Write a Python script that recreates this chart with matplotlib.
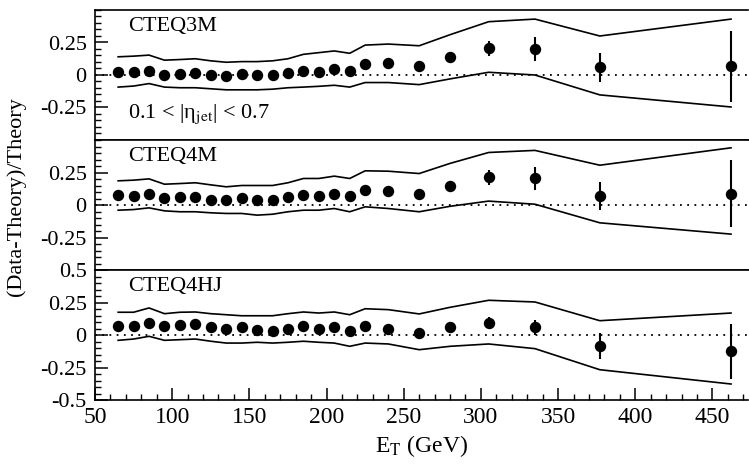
import numpy as np
import matplotlib.pyplot as plt
from matplotlib.ticker import MultipleLocator, FixedLocator

plt.rcParams['font.family'] = ['Liberation Serif', 'DejaVu Serif']
plt.rcParams['mathtext.fontset'] = 'stix'

# jet E_T bin centres (GeV)
et = [65, 75, 85, 95, 105, 115, 125, 135, 145, 155, 165, 175, 185, 195, 205,
      215, 225, 240, 260, 280, 305, 335, 377, 462]

# CTEQ3M
d3m = [0.026, 0.021, 0.034, 0.0, 0.008, 0.018, -0.003, -0.008, 0.006, 0.0, 0.0,
       0.013, 0.034, 0.026, 0.048, 0.034, 0.087, 0.09, 0.066, 0.137, 0.206,
       0.198, 0.058, 0.066]
e3m = [0.005, 0.005, 0.005, 0.005, 0.005, 0.005, 0.005, 0.006, 0.006, 0.007,
       0.008, 0.008, 0.009, 0.010, 0.011, 0.013, 0.015, 0.018, 0.022, 0.036,
       0.057, 0.093, 0.11, 0.27]
up3m = [0.140, 0.145, 0.153, 0.114, 0.119, 0.125, 0.109, 0.098, 0.103, 0.103,
        0.109, 0.125, 0.159, 0.172, 0.185, 0.167, 0.230, 0.238, 0.225, 0.31,
        0.41, 0.43, 0.30, 0.43]
lo3m = [-0.093, -0.085, -0.066, -0.093, -0.098, -0.098, -0.106, -0.114, -0.114,
        -0.114, -0.109, -0.098, -0.093, -0.087, -0.079, -0.093, -0.058, -0.058,
        -0.074, -0.03, 0.021, 0.0, -0.153, -0.246]

# CTEQ4M
d4m = [0.075, 0.068, 0.088, 0.055, 0.058, 0.063, 0.042, 0.042, 0.055, 0.042,
       0.042, 0.058, 0.075, 0.068, 0.088, 0.071, 0.114, 0.109, 0.088, 0.148,
       0.212, 0.204, 0.068, 0.088]
e4m = [0.005, 0.005, 0.005, 0.005, 0.005, 0.005, 0.005, 0.006, 0.006, 0.007,
       0.008, 0.008, 0.009, 0.010, 0.011, 0.013, 0.015, 0.018, 0.022, 0.036,
       0.055, 0.087, 0.109, 0.26]
up4m = [0.186, 0.191, 0.201, 0.16, 0.165, 0.171, 0.155, 0.14, 0.15, 0.15, 0.15,
        0.171, 0.204, 0.204, 0.222, 0.204, 0.263, 0.26, 0.242, 0.32, 0.404,
        0.42, 0.306, 0.44]
lo4m = [-0.04, -0.035, -0.022, -0.045, -0.052, -0.052, -0.06, -0.065, -0.065,
        -0.078, -0.071, -0.052, -0.04, -0.04, -0.027, -0.052, -0.014, -0.027,
        -0.052, -0.01, 0.03, 0.006, -0.137, -0.224]

# CTEQ4HJ
d4hj = [0.067, 0.067, 0.092, 0.067, 0.075, 0.082, 0.059, 0.048, 0.062, 0.041,
        0.028, 0.048, 0.067, 0.048, 0.062, 0.033, 0.072, 0.048, 0.012, 0.059,
        0.092, 0.059, -0.087, -0.125]
e4hj = [0.005, 0.005, 0.005, 0.005, 0.005, 0.005, 0.005, 0.006, 0.006, 0.007,
        0.008, 0.008, 0.009, 0.010, 0.011, 0.013, 0.015, 0.018, 0.02, 0.03,
        0.044, 0.06, 0.10, 0.21]
up4hj = [0.175, 0.175, 0.208, 0.164, 0.175, 0.177, 0.164, 0.156, 0.148, 0.148,
         0.148, 0.164, 0.177, 0.169, 0.177, 0.156, 0.202, 0.195, 0.162, 0.213,
         0.267, 0.254, 0.11, 0.169]
lo4hj = [-0.041, -0.031, -0.01, -0.041, -0.036, -0.031, -0.048, -0.062, -0.062,
         -0.056, -0.062, -0.056, -0.048, -0.056, -0.062, -0.087, -0.062, -0.069,
         -0.113, -0.087, -0.069, -0.105, -0.267, -0.377]

panels = [('CTEQ3M', d3m, e3m, up3m, lo3m),
          ('CTEQ4M', d4m, e4m, up4m, lo4m),
          ('CTEQ4HJ', d4hj, e4hj, up4hj, lo4hj)]

W, H = 749, 465
fig = plt.figure(figsize=(W / 100, H / 100), dpi=100)

left = 95 / W
width = 653 / W
tops = [10, 140, 270]
ph = 130

axes = []
for i, (name, d, e, up, lo) in enumerate(panels):
    ax = fig.add_axes([left, 1 - (tops[i] + ph) / H, width, ph / H])
    axes.append(ax)
    ax.plot(et, up, color='black', lw=1.2)
    ax.plot(et, lo, color='black', lw=1.2)
    ax.axhline(0, color='black', lw=1.3, ls=(0, (1, 3)))
    ax.errorbar(et, d, yerr=e, fmt='o', color='black', ms=7.2, elinewidth=1.5,
                capsize=0)
    ax.set_xlim(50, 473)
    ax.set_ylim(-0.5, 0.5)
    ax.text(0.05, 0.87, name, transform=ax.transAxes, fontsize=16,
            ha='left', va='center')
    ax.spines['right'].set_visible(False)
    for s in ['top', 'bottom', 'left']:
        ax.spines[s].set_linewidth(1.2)
    if i < 2:
        ax.yaxis.set_major_locator(FixedLocator([-0.25, 0, 0.25]))
        ax.set_yticklabels(['-0.25', '0', '0.25'])
        ax.tick_params(axis='x', which='both', length=0, labelbottom=False)
    else:
        ax.yaxis.set_major_locator(FixedLocator([-0.5, -0.25, 0, 0.25, 0.5]))
        ax.set_yticklabels(['-0.5', '-0.25', '0', '0.25', '0.5'])
        ax.xaxis.set_major_locator(MultipleLocator(50))
        ax.xaxis.set_minor_locator(MultipleLocator(10))
        ax.tick_params(axis='x', which='major', direction='in', length=9,
                       width=1.1, labelsize=17, pad=5)
        ax.tick_params(axis='x', which='minor', direction='in', length=4,
                       width=1.0)
    ax.yaxis.set_minor_locator(MultipleLocator(0.05))
    ax.tick_params(axis='y', which='major', direction='in', length=9,
                   width=1.1, labelsize=16, pad=6)
    ax.tick_params(axis='y', which='minor', direction='in', length=4,
                   width=1.0)

axes[0].text(0.05, 0.2, '0.1 < |η$_{\\rm jet}$| < 0.7',
             transform=axes[0].transAxes, fontsize=16, ha='left', va='center')

axes[2].set_xlabel(r'E$_{\rm T}$ (GeV)', fontsize=17, labelpad=4)
fig.text(16 / W, 1 - 197 / H, '(Data-Theory)/Theory', rotation=90,
         fontsize=16, ha='center', va='center')

fig.savefig('out.png', dpi=100)
